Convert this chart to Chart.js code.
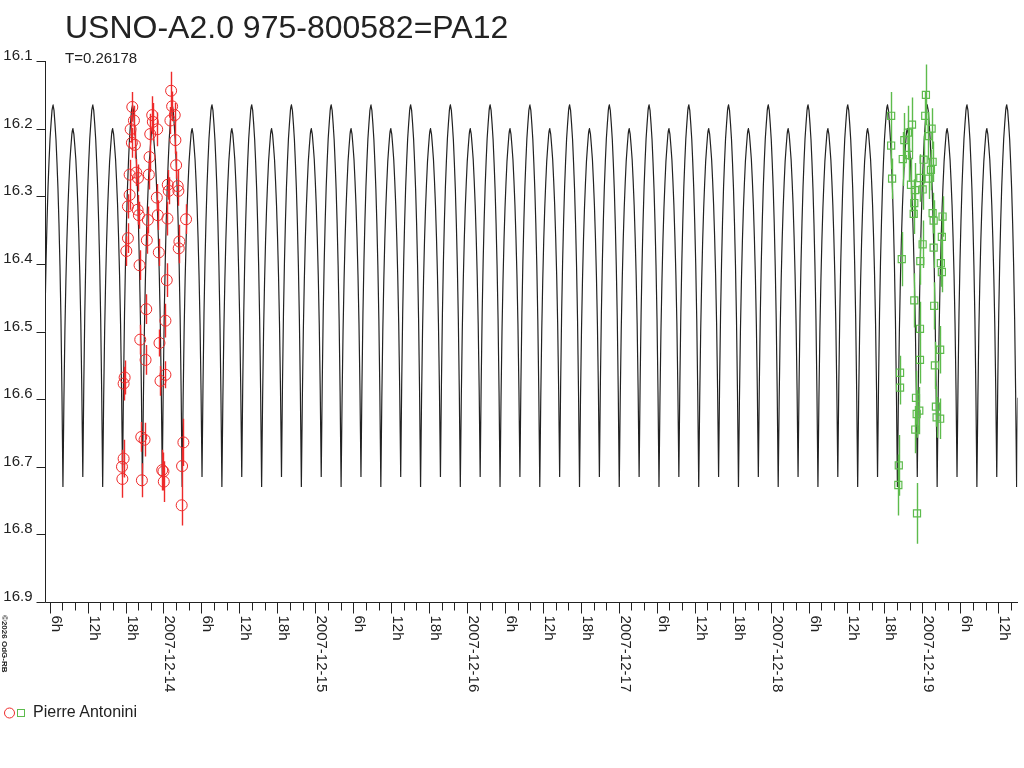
<!DOCTYPE html>
<html><head><meta charset="utf-8">
<script src="https://cdn.jsdelivr.net/npm/chart.js@4.4.1/dist/chart.umd.min.js"></script>
<style>
html,body{margin:0;padding:0;background:#fff;}
#wrap{position:relative;width:1024px;height:768px;overflow:hidden;font-family:"Liberation Sans",Arial,sans-serif;color:#222;}
canvas{position:absolute;left:0;top:0;}
.t{position:absolute;white-space:nowrap;line-height:1;}
</style></head><body>
<div id="wrap">
<canvas id="c" width="1024" height="768"></canvas>
<div class="t" style="left:65px;top:11px;font-size:32px;">USNO-A2.0 975-800582=PA12</div>
<div class="t" style="left:65px;top:50px;font-size:15px;">T=0.26178</div>
<div class="t" style="left:33px;top:704px;font-size:16px;">Pierre Antonini</div>
<div class="t" style="left:8px;top:615px;font-size:8px;font-weight:bold;transform:rotate(90deg);transform-origin:0 0;">©2026 OdG-RB</div>
</div>
<script>
// ---- data (time in hours since 2007-12-13 00:00 UT, magnitudes) ----
const periodDays = 0.26178;
const epochHours = 63.08;          // a main maximum of the model light curve
const xMinHours = 5.27;
const xMaxHours = 159.03;

// one cycle of the model curve
const modelPhase = [0,0.025,0.05,0.075,0.1,0.125,0.15,0.175,0.2,0.225,
  0.25,0.275,0.3,0.325,0.35,0.375,0.4,0.425,0.45,0.475,
  0.5,0.525,0.55,0.575,0.6,0.625,0.65,0.675,0.7,0.725,
  0.75,0.775,0.8,0.825,0.85,0.875,0.9,0.925,0.95,0.975];
const modelMag = [16.165,16.173,16.193,16.216,16.250,16.289,16.340,16.402,16.481,16.589,
  16.730,16.598,16.497,16.423,16.364,16.317,16.280,16.248,16.227,16.208,
  16.200,16.208,16.226,16.246,16.277,16.313,16.360,16.416,16.488,16.586,
  16.715,16.578,16.473,16.396,16.336,16.286,16.248,16.215,16.193,16.173];

const redTime = [25.21,19.07,25.37,22.22,25.78,19.33,25.10,22.32,18.81,23.01,
  21.91,25.89,19.01,19.48,21.80,26.00,18.65,19.70,21.69,19.96,
  24.68,26.25,24.83,26.36,18.65,22.95,18.38,19.91,20.11,23.10,
  21.53,24.63,27.57,18.38,21.37,26.52,18.13,26.41,23.26,20.22,
  24.52,21.28,24.31,20.33,23.37,21.17,17.86,24.31,17.70,23.53,
  20.49,21.01,27.15,17.70,17.44,26.94,23.80,24.00,17.50,20.59,
  24.05,26.88];
const redMag = [16.144,16.168,16.167,16.180,16.180,16.188,16.188,16.190,16.201,16.201,
  16.208,16.217,16.221,16.224,16.242,16.254,16.268,16.265,16.268,16.273,
  16.283,16.285,16.292,16.292,16.298,16.302,16.315,16.320,16.328,16.328,
  16.335,16.333,16.334,16.362,16.365,16.367,16.381,16.377,16.383,16.402,
  16.424,16.467,16.484,16.512,16.517,16.542,16.568,16.564,16.577,16.573,
  16.656,16.660,16.664,16.688,16.700,16.699,16.705,16.707,16.718,16.720,
  16.722,16.757];
const redErr = [0.028,0.022,0.022,0.028,0.018,0.022,0.020,0.028,0.020,0.025,
  0.030,0.020,0.022,0.020,0.022,0.020,0.022,0.020,0.022,0.020,
  0.022,0.025,0.020,0.022,0.022,0.020,0.018,0.022,0.020,0.022,
  0.020,0.025,0.022,0.022,0.020,0.025,0.022,0.022,0.020,0.022,
  0.025,0.022,0.025,0.022,0.020,0.022,0.025,0.020,0.025,0.022,
  0.022,0.025,0.035,0.028,0.025,0.028,0.030,0.028,0.028,0.025,
  0.030,0.030];

const greenTime = [144.55,139.05,142.35,144.44,145.45,141.14,139.05,144.92,140.89,144.19,
  145.61,145.34,139.20,143.66,144.98,144.03,142.71,142.62,145.61,145.77,
  147.18,147.07,144.03,145.77,140.73,143.66,146.91,147.07,142.71,145.86,
  143.61,143.61,146.80,145.97,140.46,140.46,142.98,143.50,143.09,146.13,
  146.24,146.80,142.87,140.26,140.19,143.14,141.72,141.88,142.19,142.82];
const greenMag = [16.150,16.181,16.194,16.181,16.200,16.217,16.225,16.211,16.245,16.246,
  16.249,16.261,16.274,16.273,16.274,16.290,16.310,16.326,16.325,16.336,
  16.330,16.360,16.371,16.376,16.393,16.396,16.399,16.412,16.454,16.462,
  16.496,16.542,16.527,16.550,16.561,16.583,16.598,16.617,16.622,16.611,
  16.627,16.629,16.645,16.698,16.727,16.769,16.206,16.239,16.283,16.291];
const greenErr = [0.045,0.035,0.040,0.035,0.030,0.040,0.035,0.035,0.040,0.035,
  0.030,0.030,0.030,0.035,0.030,0.030,0.035,0.030,0.030,0.030,
  0.030,0.035,0.035,0.030,0.040,0.035,0.035,0.030,0.040,0.035,
  0.040,0.035,0.035,0.035,0.025,0.025,0.040,0.035,0.035,0.030,
  0.030,0.030,0.035,0.045,0.045,0.045,0.040,0.040,0.040,0.040];

const yTicks = [16.1,16.2,16.3,16.4,16.5,16.6,16.7,16.8,16.9];
const hourLabels = {6:'6h',12:'12h',18:'18h'};
const dayLabels = ['2007-12-14','2007-12-15','2007-12-16','2007-12-17','2007-12-18','2007-12-19'];
const minorStepHours = 2, labelStepHours = 6;
const legendLabel = 'Pierre Antonini';

const RED = '#ee2a2a', GREEN = '#5dbb4c', INK = '#222222';
const FONT = '"Liberation Sans", Arial, sans-serif';

// build chart datasets
const periodHours = periodDays * 24;
const modelData = [];
const k0 = Math.floor((xMinHours - epochHours) / periodHours) - 1;
const k1 = Math.ceil((xMaxHours - epochHours) / periodHours) + 1;
for (let k = k0; k <= k1; k++) {
  for (let i = 0; i < modelPhase.length; i++) {
    modelData.push({x: epochHours + (k + modelPhase[i]) * periodHours, y: modelMag[i]});
  }
}
const redData = redTime.map((t, i) => ({x: t, y: redMag[i]}));
const greenData = greenTime.map((t, i) => ({x: t, y: greenMag[i]}));

const customAxes = {
  id: 'customAxes',
  afterDatasetDraw(chart, args) {
    if (args.index !== 0) return;
    const ctx = chart.ctx, xs = chart.scales.x, ys = chart.scales.y;
    ctx.save();
    ctx.lineWidth = 1.4;
    const bars = (T, M, E, col) => {
      ctx.strokeStyle = col;
      ctx.beginPath();
      for (let i = 0; i < T.length; i++) {
        const px = Math.round(xs.getPixelForValue(T[i])) + 0.5;
        ctx.moveTo(px, ys.getPixelForValue(M[i] - E[i]));
        ctx.lineTo(px, ys.getPixelForValue(M[i] + E[i]));
      }
      ctx.stroke();
    };
    bars(greenTime, greenMag, greenErr, GREEN);
    bars(redTime, redMag, redErr, RED);
    ctx.restore();
  },
  afterDraw(chart) {
    const ctx = chart.ctx, xs = chart.scales.x, ys = chart.scales.y, a = chart.chartArea;
    ctx.save();
    ctx.strokeStyle = INK; ctx.fillStyle = INK; ctx.lineWidth = 1;
    const L = Math.round(a.left) + 0.5, B = Math.round(a.bottom) + 0.5;
    ctx.beginPath();
    ctx.moveTo(L, Math.round(a.top)); ctx.lineTo(L, B);
    ctx.lineTo(Math.round(a.right), B);
    ctx.stroke();
    // y ticks
    ctx.font = '15px ' + FONT;
    ctx.textAlign = 'right'; ctx.textBaseline = 'alphabetic';
    yTicks.forEach(v => {
      const py = Math.round(ys.getPixelForValue(v)) + 0.5;
      ctx.beginPath(); ctx.moveTo(L - 9, py); ctx.lineTo(L, py); ctx.stroke();
      ctx.fillText(v.toFixed(1), L - 13, py - 2);
    });
    // x ticks
    const hStart = Math.ceil(xs.min / minorStepHours) * minorStepHours;
    for (let h = hStart; h <= xs.max; h += minorStepHours) {
      const px = Math.round(xs.getPixelForValue(h)) + 0.5;
      const major = h % labelStepHours === 0;
      ctx.beginPath(); ctx.moveTo(px, B); ctx.lineTo(px, B + (major ? 11 : 8)); ctx.stroke();
      if (major) {
        const hh = h % 24;
        const label = hh === 0 ? dayLabels[h / 24 - 1] : hourLabels[hh];
        ctx.save();
        ctx.translate(px + 1, B + 13);
        ctx.rotate(Math.PI / 2);
        ctx.textAlign = 'left'; ctx.textBaseline = 'alphabetic';
        ctx.fillText(label, 0, 0);
        ctx.restore();
      }
    }
    // legend symbols
    ctx.lineWidth = 1;
    ctx.strokeStyle = RED;
    ctx.beginPath(); ctx.arc(9.5, 713, 5, 0, Math.PI * 2); ctx.stroke();
    ctx.strokeStyle = GREEN;
    ctx.strokeRect(17.5, 709.5, 7, 7);
    ctx.restore();
  }
};

new Chart(document.getElementById('c'), {
  type: 'scatter',
  data: {
    datasets: [
      {type: 'line', label: 'model', data: modelData, borderColor: INK, borderWidth: 1.2,
       pointRadius: 0, tension: 0.0001, fill: false, order: 3},
      {label: legendLabel, data: redData, pointStyle: 'circle', pointRadius: 5.5,
       borderColor: RED, backgroundColor: 'rgba(0,0,0,0)', pointBorderWidth: 1, order: 1},
      {label: legendLabel, data: greenData, pointStyle: 'rect', pointRadius: 5,
       borderColor: GREEN, backgroundColor: 'rgba(0,0,0,0)', pointBorderWidth: 1.2, order: 2}
    ]
  },
  options: {
    responsive: false, animation: false, devicePixelRatio: 1,
    layout: {padding: {left: 45, top: 61, right: 2, bottom: 166}},
    plugins: {legend: {display: false}, tooltip: {enabled: false}, title: {display: false}},
    scales: {
      x: {type: 'linear', min: xMinHours, max: xMaxHours, display: false},
      y: {type: 'linear', min: 16.1, max: 16.9, reverse: true, display: false}
    }
  },
  plugins: [customAxes]
});
</script>
</body></html>
